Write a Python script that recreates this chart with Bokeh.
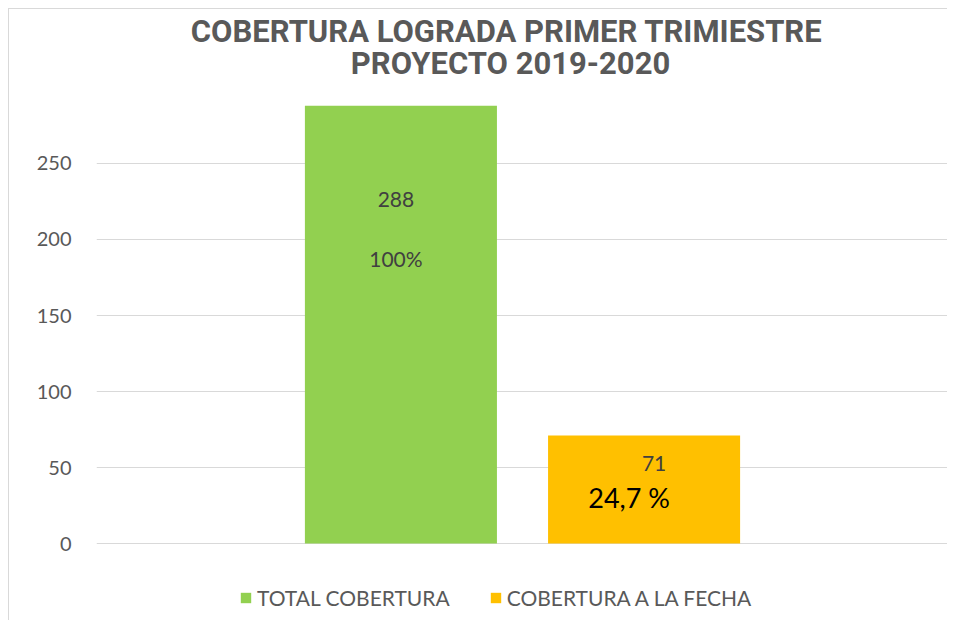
from bokeh.plotting import figure
from bokeh.models import Range1d, FixedTicker, Label, Legend, LegendItem, ColumnDataSource
from bokeh.core.properties import value
from bokeh.embed import file_html
from bokeh.resources import INLINE

# ---- data ----
title_lines = ["COBERTURA LOGRADA  PRIMER TRIMIESTRE", "PROYECTO 2019-2020"]
series = ["TOTAL COBERTURA", "COBERTURA A LA FECHA"]
values = [288, 71]
percent_labels = ["100%", "24,7 %"]
y_ticks = [0, 50, 100, 150, 200, 250]

# ---- style ----
colors = ["#92D050", "#FFC000"]
bar_w = 0.2254
gap = 0.06
offsets = [-(bar_w + gap) / 2, (bar_w + gap) / 2]
val_dx = [-5, 10]
val_dy = [94, 28]
pct_dx = [-5, -15]
pct_dy = [153, 62]
pct_size = ["21px", "27px"]
pct_color = ["#404040", "#000000"]
FONT = "Lato"
GRAY = "#595959"

W, H = 939, 612
p = figure(width=W, height=H, output_backend="svg", toolbar_location=None,
           x_range=Range1d(-0.5, 0.5), y_range=Range1d(-51.3, 351.3),
           x_axis_type=None,
           min_border_left=87, min_border_right=0, min_border_top=0, min_border_bottom=0)
p.margin = (8, 0, 0, 8)
p.styles = {"border-left": "1px solid #d9d9d9", "border-top": "1px solid #d9d9d9"}
p.outline_line_color = None
p.background_fill_color = "white"
p.border_fill_color = "white"

ticker = FixedTicker(ticks=y_ticks)
p.yaxis.ticker = ticker
p.yaxis.axis_line_color = None
p.yaxis.major_tick_line_color = None
p.yaxis.minor_tick_line_color = None
p.yaxis.major_label_standoff = 19
p.yaxis.major_label_text_font = FONT
p.yaxis.major_label_text_font_size = "20px"
p.yaxis.major_label_text_color = GRAY
p.ygrid.ticker = ticker
p.ygrid.grid_line_color = "#d9d9d9"
p.ygrid.grid_line_width = 1
p.xgrid.visible = False

items = []
for i in range(len(values)):
    src = ColumnDataSource(dict(x=[offsets[i]], top=[values[i]],
                                vtxt=[str(values[i])], ptxt=[percent_labels[i]]))
    r = p.vbar(x="x", top="top", bottom=0, width=bar_w, source=src,
               fill_color=colors[i], line_color=None)
    items.append(LegendItem(label=series[i], renderers=[r]))
    p.text(x="x", y="top", text="vtxt", source=src, x_offset=val_dx[i], y_offset=val_dy[i],
           text_align="center", text_baseline="alphabetic",
           text_font=value(FONT), text_font_size="21px", text_color="#404040")
    p.text(x="x", y="top", text="ptxt", source=src, x_offset=pct_dx[i], y_offset=pct_dy[i],
           text_align="center", text_baseline="alphabetic",
           text_font=value(FONT), text_font_size=pct_size[i], text_color=pct_color[i])

title_y = [590, 558]
for t, ty in zip(title_lines, title_y):
    p.add_layout(Label(x=414, y=ty, x_units="screen", y_units="screen", text=t,
                       text_align="center", text_baseline="alphabetic",
                       text_font="Roboto", text_font_style="bold",
                       text_font_size="31px", text_color=GRAY))

legend = Legend(items=items, orientation="horizontal", location=(143, 11),
                glyph_width=13, glyph_height=13, label_standoff=5, spacing=39,
                padding=0, margin=0, border_line_color=None, background_fill_alpha=0,
                label_text_font=FONT, label_text_font_size="21px", label_text_color=GRAY)
p.add_layout(legend)

open("out.html", "w").write(file_html(p, INLINE))
